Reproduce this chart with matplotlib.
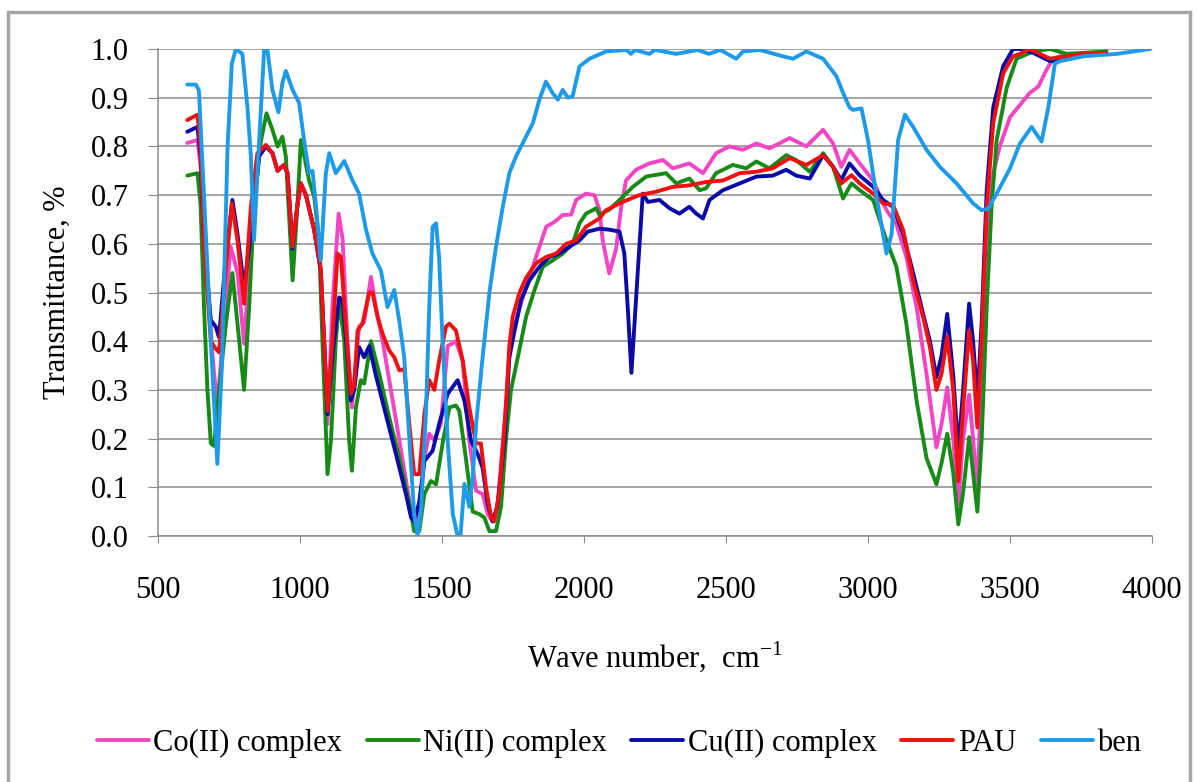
import matplotlib
matplotlib.use("Agg")
import matplotlib.pyplot as plt
from matplotlib.patches import Rectangle

plt.rcParams['font.family'] = ['Liberation Serif', 'DejaVu Serif']
plt.rcParams['mathtext.fontset'] = 'custom'
plt.rcParams['mathtext.rm'] = 'Liberation Serif'

# Co(II) complex
co_w = [603, 639, 650, 668, 692, 709, 727, 756, 780, 803, 827, 850, 880, 903, 921, 944, 956, 974, 991, 1003,
        1021, 1050, 1073, 1085, 1097, 1114, 1136, 1150, 1167, 1183, 1197, 1208, 1226, 1250, 1267, 1291, 1320,
        1350, 1385, 1402, 1420, 1438, 1455, 1473, 1496, 1520, 1549, 1573, 1596, 1620, 1643, 1661, 1678, 1695,
        1720, 1737, 1755, 1784, 1820, 1843, 1867, 1896, 1925, 1955, 1972, 2007, 2037, 2054, 2066, 2089, 2113,
        2131, 2148, 2183, 2230, 2278, 2313, 2371, 2419, 2465, 2512, 2559, 2607, 2653, 2724, 2783, 2842, 2877,
        2906, 2935, 2971, 3018, 3065, 3100, 3135, 3171, 3206, 3241, 3259, 3279, 3300, 3318, 3335, 3356, 3370,
        3385, 3400, 3418, 3441, 3464, 3500, 3535, 3570, 3600, 3629, 3652, 3700, 3840]
co_t = [0.807, 0.813, 0.76, 0.60, 0.37, 0.264, 0.40, 0.594, 0.54, 0.395, 0.60, 0.775, 0.80, 0.786, 0.75, 0.762,
        0.745, 0.594, 0.68, 0.724, 0.70, 0.628, 0.545, 0.40, 0.23, 0.47, 0.662, 0.61, 0.40, 0.264, 0.36, 0.43,
        0.44, 0.532, 0.47, 0.40, 0.30, 0.196, 0.072, 0.024, 0.045, 0.16, 0.21, 0.196, 0.23, 0.39, 0.40, 0.36,
        0.196, 0.093, 0.086, 0.045, 0.03, 0.06, 0.23, 0.367, 0.43, 0.49, 0.553, 0.594, 0.635, 0.645, 0.659,
        0.66, 0.69, 0.703, 0.70, 0.67, 0.607, 0.539, 0.59, 0.676, 0.73, 0.752, 0.765, 0.772, 0.755, 0.765,
        0.745, 0.786, 0.80, 0.793, 0.806, 0.796, 0.817, 0.80, 0.834, 0.806, 0.758, 0.793, 0.765, 0.73, 0.669,
        0.64, 0.573, 0.47, 0.333, 0.182, 0.23, 0.305, 0.20, 0.065, 0.20, 0.29, 0.20, 0.093, 0.33, 0.607, 0.745,
        0.80, 0.86, 0.885, 0.91, 0.923, 0.958, 0.98, 0.99, 0.99]

# Ni(II) complex
ni_w = [603, 639, 650, 662, 674, 686, 697, 715, 739, 762, 780, 803, 821, 838, 862, 882, 903, 921, 938, 950, 974,
        991, 1003, 1015, 1032, 1050, 1067, 1079, 1097, 1109, 1126, 1138, 1156, 1173, 1183, 1197, 1214, 1226,
        1250, 1279, 1314, 1350, 1385, 1402, 1420, 1438, 1461, 1479, 1502, 1526, 1549, 1561, 1584, 1608, 1631,
        1649, 1667, 1690, 1708, 1725, 1743, 1767, 1796, 1825, 1855, 1890, 1925, 1960, 1984, 2007, 2043, 2054,
        2089, 2125, 2172, 2219, 2289, 2325, 2371, 2407, 2430, 2465, 2524, 2571, 2607, 2653, 2712, 2747, 2795,
        2842, 2877, 2912, 2942, 2971, 3018, 3065, 3100, 3135, 3171, 3206, 3241, 3259, 3279, 3300, 3318, 3335,
        3356, 3370, 3385, 3400, 3418, 3435, 3453, 3488, 3523, 3582, 3641, 3700, 3840]
ni_t = [0.74, 0.745, 0.68, 0.47, 0.30, 0.19, 0.185, 0.30, 0.435, 0.54, 0.435, 0.30, 0.47, 0.676, 0.81, 0.868,
        0.834, 0.80, 0.82, 0.78, 0.525, 0.68, 0.813, 0.78, 0.73, 0.697, 0.607, 0.40, 0.127, 0.196, 0.40, 0.484,
        0.40, 0.196, 0.134, 0.264, 0.32, 0.313, 0.40, 0.333, 0.244, 0.16, 0.065, 0.01, 0.01, 0.086, 0.113,
        0.106, 0.19, 0.264, 0.268, 0.257, 0.16, 0.05, 0.045, 0.038, 0.01, 0.01, 0.06, 0.196, 0.30, 0.367, 0.45,
        0.504, 0.553, 0.566, 0.58, 0.60, 0.642, 0.662, 0.673, 0.66, 0.67, 0.69, 0.717, 0.738, 0.745, 0.724,
        0.734, 0.71, 0.714, 0.745, 0.762, 0.755, 0.769, 0.755, 0.782, 0.772, 0.748, 0.786, 0.758, 0.693, 0.724,
        0.71, 0.69, 0.607, 0.553, 0.436, 0.278, 0.16, 0.106, 0.15, 0.21, 0.13, 0.024, 0.09, 0.203, 0.13, 0.05,
        0.196, 0.47, 0.676, 0.813, 0.92, 0.98, 0.995, 1.0, 0.99, 0.995]

# Cu(II) complex
cu_w = [603, 639, 650, 662, 686, 703, 715, 739, 762, 780, 803, 827, 844, 856, 880, 903, 921, 944, 956, 974, 991,
        1003, 1021, 1050, 1073, 1085, 1097, 1114, 1138, 1150, 1167, 1179, 1191, 1208, 1226, 1244, 1267, 1302,
        1338, 1373, 1391, 1402, 1420, 1438, 1467, 1490, 1520, 1555, 1579, 1602, 1626, 1643, 1661, 1678, 1695,
        1720, 1737, 1755, 1778, 1808, 1843, 1878, 1913, 1949, 1984, 2013, 2054, 2089, 2125, 2142, 2154, 2167,
        2189, 2207, 2225, 2266, 2301, 2336, 2371, 2395, 2419, 2442, 2489, 2548, 2607, 2665, 2712, 2747, 2795,
        2842, 2877, 2906, 2935, 2971, 3018, 3053, 3088, 3124, 3159, 3194, 3218, 3241, 3259, 3279, 3300, 3318,
        3335, 3356, 3370, 3385, 3400, 3418, 3441, 3476, 3511, 3535, 3582, 3641, 3700, 3758, 3840]
cu_t = [0.83, 0.84, 0.78, 0.60, 0.443, 0.43, 0.408, 0.575, 0.69, 0.62, 0.51, 0.62, 0.71, 0.78, 0.80, 0.786,
        0.75, 0.762, 0.745, 0.59, 0.68, 0.724, 0.70, 0.628, 0.545, 0.40, 0.25, 0.37, 0.49, 0.485, 0.37, 0.278,
        0.30, 0.388, 0.367, 0.39, 0.33, 0.25, 0.168, 0.086, 0.038, 0.03, 0.07, 0.154, 0.175, 0.23, 0.292, 0.32,
        0.278, 0.196, 0.168, 0.14, 0.065, 0.03, 0.06, 0.196, 0.367, 0.42, 0.484, 0.525, 0.553, 0.573, 0.58,
        0.594, 0.607, 0.625, 0.631, 0.629, 0.625, 0.58, 0.47, 0.335, 0.54, 0.703, 0.686, 0.69, 0.673, 0.662,
        0.676, 0.662, 0.652, 0.69, 0.71, 0.724, 0.738, 0.74, 0.752, 0.74, 0.734, 0.782, 0.758, 0.731, 0.765,
        0.74, 0.717, 0.69, 0.676, 0.62, 0.54, 0.456, 0.40, 0.326, 0.37, 0.456, 0.33, 0.175, 0.30, 0.477, 0.40,
        0.278, 0.435, 0.71, 0.88, 0.965, 1.0, 1.0, 0.992, 0.975, 0.979, 0.99, 0.99]

# PAU
pau_w = [603, 639, 650, 662, 686, 703, 715, 739, 760, 780, 803, 827, 850, 880, 903, 921, 944, 956, 974, 991, 1003,
         1021, 1050, 1073, 1085, 1097, 1114, 1132, 1144, 1161, 1179, 1191, 1203, 1220, 1244, 1255, 1273, 1291,
         1314, 1332, 1350, 1367, 1385, 1402, 1420, 1438, 1455, 1473, 1490, 1514, 1526, 1549, 1573, 1596, 1620,
         1637, 1655, 1673, 1684, 1702, 1725, 1737, 1749, 1773, 1796, 1831, 1867, 1902, 1937, 1972, 2007, 2054,
         2078, 2136, 2195, 2254, 2313, 2371, 2430, 2489, 2548, 2607, 2665, 2724, 2783, 2842, 2877, 2906, 2942,
         2971, 3018, 3053, 3088, 3124, 3159, 3194, 3218, 3241, 3259, 3279, 3300, 3318, 3335, 3356, 3370, 3385,
         3400, 3418, 3441, 3476, 3511, 3535, 3570, 3641, 3700, 3758, 3840]
pau_t = [0.854, 0.865, 0.80, 0.60, 0.40, 0.385, 0.377, 0.55, 0.683, 0.607, 0.477, 0.676, 0.786, 0.803, 0.786,
         0.75, 0.762, 0.745, 0.594, 0.68, 0.724, 0.70, 0.628, 0.55, 0.40, 0.257, 0.40, 0.58, 0.573, 0.436, 0.292,
         0.31, 0.422, 0.436, 0.50, 0.50, 0.45, 0.415, 0.381, 0.367, 0.34, 0.343, 0.23, 0.127, 0.127, 0.25, 0.32,
         0.30, 0.36, 0.43, 0.436, 0.422, 0.36, 0.264, 0.19, 0.19, 0.10, 0.038, 0.03, 0.09, 0.264, 0.39, 0.45,
         0.50, 0.53, 0.56, 0.573, 0.58, 0.60, 0.607, 0.635, 0.652, 0.669, 0.686, 0.70, 0.707, 0.717, 0.72,
         0.727, 0.73, 0.745, 0.748, 0.755, 0.776, 0.762, 0.782, 0.758, 0.724, 0.741, 0.724, 0.703, 0.683, 0.68,
         0.628, 0.525, 0.45, 0.388, 0.30, 0.333, 0.41, 0.30, 0.113, 0.26, 0.422, 0.36, 0.223, 0.40, 0.676,
         0.848, 0.95, 0.985, 0.99, 1.0, 0.98, 0.985, 0.99, 0.99]

# ben
ben_w = [603, 633, 644, 662, 686, 709, 725, 745, 760, 774, 797, 815, 827, 838, 856, 874, 885, 903, 924, 938, 950,
         974, 997, 1015, 1032, 1044, 1056, 1073, 1091, 1103, 1126, 1156, 1185, 1208, 1232, 1255, 1285, 1308,
         1332, 1350, 1367, 1385, 1402, 1414, 1426, 1444, 1455, 1467, 1479, 1490, 1502, 1520, 1538, 1555, 1565,
         1579, 1596, 1608, 1620, 1643, 1667, 1690, 1714, 1737, 1761, 1796, 1820, 1843, 1866, 1890, 1908, 1925,
         1943, 1960, 1984, 2019, 2078, 2150, 2165, 2180, 2230, 2250, 2325, 2400, 2440, 2480, 2536, 2560, 2620,
         2700, 2736, 2783, 2842, 2889, 2912, 2935, 2947, 2977, 3000, 3030, 3065, 3083, 3106, 3130, 3159, 3206,
         3253, 3312, 3370, 3400, 3423, 3453, 3500, 3535, 3576, 3611, 3635, 3658, 3676, 3758, 3876, 3993]
ben_t = [0.927, 0.927, 0.915, 0.70, 0.40, 0.148, 0.35, 0.80, 0.97, 1.0, 0.99, 0.88, 0.78, 0.607, 0.81, 1.0, 1.0,
         0.916, 0.87, 0.93, 0.955, 0.916, 0.889, 0.81, 0.745, 0.75, 0.68, 0.566, 0.745, 0.786, 0.745, 0.77,
         0.73, 0.703, 0.63, 0.58, 0.545, 0.47, 0.505, 0.44, 0.367, 0.20, 0.045, 0.0, 0.05, 0.26, 0.47, 0.635,
         0.642, 0.57, 0.40, 0.195, 0.045, 0.0, 0.0, 0.107, 0.06, 0.12, 0.23, 0.367, 0.50, 0.594, 0.676, 0.745,
         0.78, 0.82, 0.848, 0.896, 0.933, 0.909, 0.896, 0.916, 0.90, 0.903, 0.964, 0.98, 0.995, 0.998, 0.99,
         0.998, 0.99, 0.998, 0.99, 0.998, 0.99, 0.998, 0.98, 0.995, 0.998, 0.985, 0.98, 0.995, 0.98, 0.944,
         0.91, 0.88, 0.875, 0.878, 0.813, 0.697, 0.58, 0.62, 0.813, 0.865, 0.84, 0.793, 0.758, 0.724, 0.683,
         0.669, 0.672, 0.703, 0.755, 0.806, 0.84, 0.81, 0.88, 0.97, 0.975, 0.985, 0.99, 1.0]

labels = ["Co(II) complex", "Ni(II) complex", "Cu(II) complex", "PAU", "ben"]
colors = ["#f246c4", "#178a17", "#0a0aa6", "#f01010", "#1e9be8"]
series = [(co_w, co_t), (ni_w, ni_t), (cu_w, cu_t), (pau_w, pau_t), (ben_w, ben_t)]

fig = plt.figure(figsize=(11.97, 7.82), dpi=100)
ax = fig.add_axes([158 / 1197, 1 - 536 / 782, (1152 - 158) / 1197, (536 - 49) / 782])

for (w, t), lab, c in zip(series, labels, colors):
    ax.plot(w, t, color=c, lw=2.8, label=lab, solid_joinstyle='round', solid_capstyle='round')

ax.set_xlim(500, 4000)
ax.set_ylim(0, 1.0)
ax.set_xticks(range(500, 4001, 500))
ax.set_yticks([i / 10 for i in range(11)])
ax.set_yticklabels([f"{i / 10:.1f}" for i in range(11)])
ax.yaxis.grid(True, color="#8c8c8c", lw=1.1)
ax.set_axisbelow(True)
for s in ["top", "right"]:
    ax.spines[s].set_visible(False)
for s in ["left", "bottom"]:
    ax.spines[s].set_color("#8c8c8c")
    ax.spines[s].set_linewidth(1.1)
ax.tick_params(axis="x", direction="out", length=5, color="#8c8c8c", labelsize=22, pad=24)
ax.tick_params(axis="y", direction="out", length=7, color="#8c8c8c", labelsize=22, pad=14)

ax.set_xlabel(r"Wave number,  cm$^{\mathrm{-1}}$", fontsize=22, labelpad=24)
ax.set_ylabel("Transmittance, %", fontsize=22, labelpad=14)

fig.legend(loc="center", bbox_to_anchor=(619 / 1197, 1 - 743 / 782), ncol=5, frameon=False,
           fontsize=22, handlelength=1.7, handletextpad=0.15, columnspacing=0.8)

fig.patches.append(Rectangle((8 / 1197, -0.02), (1190 - 8) / 1197, 1 - 12 / 782 + 0.02,
                             transform=fig.transFigure, fill=False, edgecolor="#a6a6a6", lw=2.5))

fig.savefig("out.png", dpi=100)
